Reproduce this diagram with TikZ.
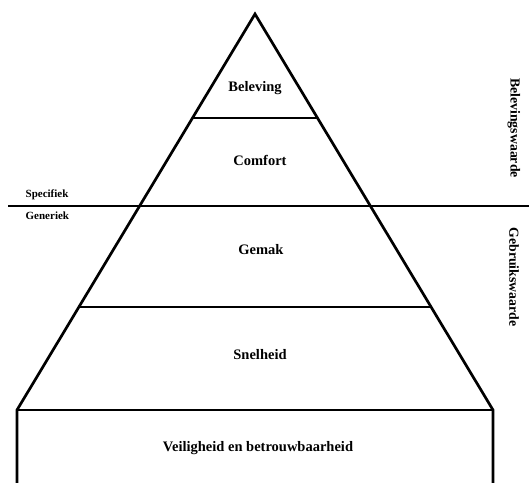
\documentclass[tikz,border=0pt]{standalone}
\usepackage{fontspec}
\setmainfont{Liberation Serif}
\usetikzlibrary{calc}
\begin{document}
\begin{tikzpicture}[x=1pt, y=-1pt, line width=2.7pt]
			% piramide met lagen, y loopt naar beneden
			\tikzset{laag/.style={font=\fontsize{14.5}{16}\selectfont\bfseries},
				klein/.style={font=\fontsize{11}{12}\selectfont\bfseries, anchor=west},
				waarde/.style={font=\fontsize{13.8}{15}\selectfont\bfseries, rotate=-90}}
			\useasboundingbox (0,0) rectangle (529,482);
			\coordinate (top) at (255,14);
			\coordinate (linksonder) at (17,410);
			\coordinate (rechtsonder) at (493,410);
			\coordinate (voetlinks) at (17,486);
			\coordinate (voetrechts) at (493,486);
			\draw[line join=miter] (voetlinks) -- (linksonder) -- (top) -- (rechtsonder) -- (voetrechts);
			\draw (linksonder) -- (rechtsonder);
			\foreach \t/\n in {0.2626/a, 0.74/b} {
				\coordinate (l\n) at ($(top)!\t!(linksonder)$);
				\coordinate (r\n) at ($(top)!\t!(rechtsonder)$);
				\draw (l\n) -- (r\n);
			}
			% scheiding specifiek - generiek
			\coordinate (grensl) at (8,206);
			\coordinate (grensr) at (529,206);
			\draw (grensl) -- (grensr);
			\node[laag] (beleving) at (255,88) {Beleving};
			\node[laag] (comfort) at (260,160) {Comfort};
			\node[laag] (gemak) at (261,250) {Gemak};
			\node[laag] (snelheid) at (260,355) {Snelheid};
			\node[laag] (veilig) at (258,448) {Veiligheid en betrouwbaarheid};
			\node[klein] (spec) at (21,195) {Specifiek};
			\node[klein] (gen) at (21,216) {Generiek};
			\node[waarde] (belw) at (514,128) {Belevingswaarde};
			\node[waarde] (gebw) at (514,277) {Gebruikswaarde};
		\end{tikzpicture}
\end{document}
